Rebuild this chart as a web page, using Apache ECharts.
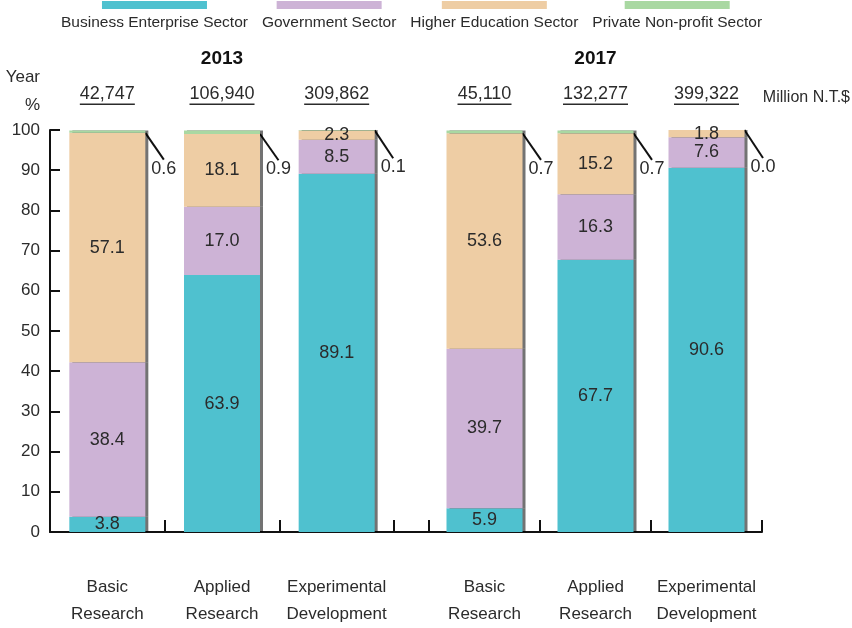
<!DOCTYPE html>
<html>
<head>
<meta charset="utf-8">
<script src="https://cdn.jsdelivr.net/npm/echarts@6/dist/echarts.min.js"></script>
<style>
  html, body { margin: 0; padding: 0; background: #fff; }
  #chart { width: 852px; height: 628px; }
</style>
</head>
<body>
<div id="chart"></div>
<script>
// R&D expenditure share by performing sector, per type of research (%)
const sectors = ['Business Enterprise Sector', 'Government Sector', 'Higher Education Sector', 'Private Non-profit Sector'];
const sectorColors = ['#4fc1cf', '#cdb3d6', '#eecda4', '#a9d8a2'];
const categories = ['Basic\nResearch', 'Applied\nResearch', 'Experimental\nDevelopment'];
const years = ['2013', '2017'];

// Totals per research type (Million N.T.$)
const totals2013 = ['42,747', '106,940', '309,862'];
const totals2017 = ['45,110', '132,277', '399,322'];

// Shares per sector, order: Basic, Applied, Experimental
const business2013 = [3.8, 63.9, 89.1];
const government2013 = [38.4, 17.0, 8.5];
const higherEdu2013 = [57.1, 18.1, 2.3];
const privateNp2013 = [0.6, 0.9, 0.1];

const business2017 = [5.9, 67.7, 90.6];
const government2017 = [39.7, 16.3, 7.6];
const higherEdu2017 = [53.6, 15.2, 1.8];
const privateNp2017 = [0.7, 0.7, 0.0];

const yTicks = { min: 0, max: 100, interval: 10 };

const FONT = '"Liberation Sans", Arial, sans-serif';
const INK = '#2b2b2b';
const AXIS = '#111';

// width of the underline under each total
const measureCtx = document.createElement('canvas').getContext('2d');
function textWidth(str, size) {
  measureCtx.font = size + 'px ' + FONT;
  return Math.round(measureCtx.measureText(str).width);
}

function totalsAxisLabel(totals) {
  const rich = { v: { fontFamily: FONT, fontSize: 18, color: INK, lineHeight: 19, align: 'center' } };
  totals.forEach((t, i) => {
    rich['u' + i] = { width: textWidth(t, 18), height: 1.5, backgroundColor: INK, align: 'center' };
  });
  return {
    margin: 25,
    interval: 0,
    formatter: (value, idx) => '{v|' + value + '}\n{u' + idx + '|}',
    rich: rich
  };
}

const barShadow = { shadowColor: 'rgba(0,0,0,0.55)', shadowBlur: 0, shadowOffsetX: 3, shadowOffsetY: 0 };

function yearSeries(stack, xIdx, yIdx, cols) {
  return cols.map((vals, s) => {
    const isPrivate = s === 3;
    return {
      name: sectors[s],
      type: 'bar',
      stack: stack,
      xAxisIndex: xIdx,
      yAxisIndex: yIdx,
      barWidth: 76,
      data: vals,
      itemStyle: Object.assign({ color: sectorColors[s] }, barShadow),
      emphasis: { disabled: true },
      label: isPrivate ? {
        show: true,
        position: 'right',
        distance: 6,
        color: INK,
        fontFamily: FONT,
        fontSize: 18,
        formatter: p => p.value.toFixed(1)
      } : {
        show: true,
        position: 'inside',
        color: INK,
        fontFamily: FONT,
        fontSize: 18,
        formatter: p => p.value.toFixed(1)
      },
      labelLayout: isPrivate ? { dy: 37 } : undefined,
      labelLine: isPrivate ? { show: true, lineStyle: { color: AXIS, width: 2 } } : undefined
    };
  });
}

const bottomAxisBase = {
  type: 'category',
  position: 'bottom',
  axisLine: { lineStyle: { color: AXIS, width: 2 } },
  axisTick: { show: true, inside: true, length: 12, lineStyle: { color: AXIS, width: 2 } },
  axisLabel: { color: INK, fontFamily: FONT, fontSize: 17, lineHeight: 27, margin: 42, interval: 0 }
};

const topAxisBase = {
  type: 'category',
  position: 'top',
  axisLine: { show: false },
  axisTick: { show: false },
  nameLocation: 'middle',
  nameGap: 62,
  nameTextStyle: { color: '#111', fontFamily: FONT, fontSize: 19, fontWeight: 'bold' }
};

const option = {
  animation: false,
  backgroundColor: '#fff',
  textStyle: { fontFamily: FONT },
  legend: {
    data: sectors,
    top: -1,
    left: 56,
    width: 800,
    padding: 0,
    itemGap: 9,
    itemWidth: 0,
    itemHeight: 0,
    selectedMode: false,
    formatter: name => '{c' + sectors.indexOf(name) + '|}\n{t|' + name + '}',
    textStyle: {
      rich: {
        c0: { width: 105, height: 8, backgroundColor: sectorColors[0], align: 'center' },
        c1: { width: 105, height: 8, backgroundColor: sectorColors[1], align: 'center' },
        c2: { width: 105, height: 8, backgroundColor: sectorColors[2], align: 'center' },
        c3: { width: 105, height: 8, backgroundColor: sectorColors[3], align: 'center' },
        t: { fontFamily: FONT, fontSize: 15.5, color: INK, lineHeight: 27, align: 'center' }
      }
    }
  },
  title: {
    text: 'Million N.T.$',
    right: 2,
    top: 90,
    padding: 0,
    textStyle: { fontFamily: FONT, fontSize: 16, fontWeight: 'normal', color: INK }
  },
  grid: [
    { left: 50, width: 344, top: 130, height: 402 },
    { left: 394, width: 35, top: 130, height: 402 },
    { left: 429, width: 333, top: 130, height: 402 }
  ],
  xAxis: [
    Object.assign({}, bottomAxisBase, { gridIndex: 0, data: categories }),
    Object.assign({}, topAxisBase, { gridIndex: 0, data: totals2013, name: years[0], axisLabel: totalsAxisLabel(totals2013) }),
    { type: 'category', gridIndex: 1, data: [''], axisLine: { lineStyle: { color: AXIS, width: 2 } }, axisTick: { show: false }, axisLabel: { show: false } },
    Object.assign({}, bottomAxisBase, { gridIndex: 2, data: categories }),
    Object.assign({}, topAxisBase, { gridIndex: 2, data: totals2017, name: years[1], axisLabel: totalsAxisLabel(totals2017) })
  ],
  yAxis: [
    {
      type: 'value', gridIndex: 0,
      min: yTicks.min, max: yTicks.max, interval: yTicks.interval,
      name: 'Year\n%',
      nameLocation: 'end',
      nameGap: 11,
      nameTextStyle: { color: INK, fontFamily: FONT, fontSize: 17, lineHeight: 28, align: 'right', padding: [0, 10, 0, 0] },
      axisLine: { show: true, lineStyle: { color: AXIS, width: 2 } },
      axisTick: { show: true, inside: true, length: 10, lineStyle: { color: AXIS, width: 2 } },
      splitLine: { show: false },
      axisLabel: { color: INK, fontFamily: FONT, fontSize: 17, margin: 10 }
    },
    { type: 'value', gridIndex: 1, min: yTicks.min, max: yTicks.max, show: false, splitLine: { show: false } },
    { type: 'value', gridIndex: 2, min: yTicks.min, max: yTicks.max, show: false, splitLine: { show: false } }
  ],
  series: [
    ...yearSeries('y2013', 0, 0, [business2013, government2013, higherEdu2013, privateNp2013]),
    ...yearSeries('y2017', 3, 2, [business2017, government2017, higherEdu2017, privateNp2017])
  ]
};

const chart = echarts.init(document.getElementById('chart'), null, { renderer: 'canvas' });
chart.setOption(option);
</script>
</body>
</html>
